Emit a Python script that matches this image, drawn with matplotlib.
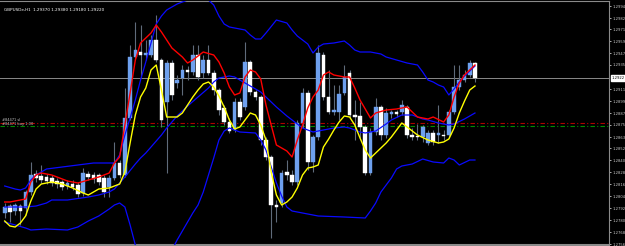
import numpy as np
import matplotlib
matplotlib.use("Agg")
import matplotlib.pyplot as plt

# --- candle data (H1 bars, oldest first) ---
opens = [1.2787, 1.2794, 1.2789, 1.2794, 1.2792, 1.2808, 1.2826, 1.2824, 1.2823, 1.2822,
         1.2819, 1.2818, 1.2814, 1.2816, 1.2815, 1.2807, 1.2826, 1.2825, 1.2825, 1.2822,
         1.2813, 1.2822, 1.2837, 1.2825, 1.2882, 1.2943, 1.2948, 1.2945, 1.2945, 1.2960,
         1.2940, 1.2898, 1.2937, 1.2917, 1.2922, 1.2930, 1.2928, 1.2945, 1.2927, 1.2940,
         1.2927, 1.2910, 1.2892, 1.2878, 1.2870, 1.2898, 1.2893, 1.2938, 1.2908, 1.2903,
         1.2860, 1.2843, 1.2795, 1.2797, 1.2828, 1.2825, 1.2818, 1.2877, 1.2907, 1.2838,
         1.2863, 1.2945, 1.2903, 1.2888, 1.2888, 1.2907, 1.2927, 1.2885, 1.2884, 1.2873,
         1.2827, 1.2868, 1.2893, 1.2865, 1.2886, 1.2888, 1.2888, 1.2893, 1.2865, 1.2864,
         1.2863, 1.2857, 1.2867, 1.2865, 1.2865, 1.2865, 1.2888, 1.2913, 1.2920, 1.2925,
         1.2937]
highs = [1.2797, 1.2796, 1.2797, 1.2796, 1.2810, 1.2838, 1.2830, 1.2835, 1.2826, 1.2825,
         1.2822, 1.2820, 1.2820, 1.2820, 1.2818, 1.2832, 1.2829, 1.2828, 1.2827, 1.2825,
         1.2825, 1.2858, 1.2840, 1.2912, 1.2955, 1.2978, 1.2975, 1.2960, 1.2965, 1.2985,
         1.2942, 1.2940, 1.2940, 1.2925, 1.2935, 1.2934, 1.2955, 1.2955, 1.2945, 1.2955,
         1.2930, 1.2912, 1.2895, 1.2882, 1.2902, 1.2902, 1.2958, 1.2940, 1.2910, 1.2905,
         1.2863, 1.2845, 1.2800, 1.2830, 1.2840, 1.2830, 1.2880, 1.2912, 1.2910, 1.2865,
         1.2955, 1.2948, 1.2930, 1.2915, 1.2915, 1.2935, 1.2930, 1.2900, 1.2898, 1.2875,
         1.2872, 1.2902, 1.2895, 1.2892, 1.2890, 1.2890, 1.2900, 1.2895, 1.2872, 1.2876,
         1.2875, 1.2870, 1.2870, 1.2895, 1.2870, 1.2890, 1.2935, 1.2935, 1.2930, 1.2940,
         1.2938]
lows = [1.2782, 1.2778, 1.2785, 1.2775, 1.2785, 1.2805, 1.2818, 1.2817, 1.2816, 1.2814,
        1.2812, 1.2810, 1.2811, 1.2810, 1.2803, 1.2804, 1.2820, 1.2817, 1.2815, 1.2803,
        1.2803, 1.2820, 1.2822, 1.2823, 1.2880, 1.2940, 1.2922, 1.2940, 1.2943, 1.2938,
        1.2873, 1.2827, 1.2900, 1.2912, 1.2905, 1.2920, 1.2925, 1.2920, 1.2922, 1.2925,
        1.2905, 1.2885, 1.2875, 1.2867, 1.2868, 1.2880, 1.2890, 1.2905, 1.2900, 1.2855,
        1.2840, 1.2762, 1.2778, 1.2793, 1.2820, 1.2815, 1.2815, 1.2872, 1.2830, 1.2828,
        1.2860, 1.2900, 1.2886, 1.2885, 1.2880, 1.2905, 1.2882, 1.2860, 1.2862, 1.2825,
        1.2825, 1.2865, 1.2860, 1.2862, 1.2882, 1.2883, 1.2885, 1.2862, 1.2860, 1.2860,
        1.2858, 1.2855, 1.2855, 1.2857, 1.2860, 1.2862, 1.2886, 1.2910, 1.2918, 1.2923,
        1.2918]
closes = [1.2793, 1.2788, 1.2795, 1.2789, 1.2808, 1.2825, 1.2822, 1.2820, 1.2819, 1.2817,
          1.2816, 1.2813, 1.2817, 1.2813, 1.2806, 1.2827, 1.2823, 1.2821, 1.2818, 1.2808,
          1.2822, 1.2837, 1.2825, 1.2882, 1.2943, 1.2950, 1.2945, 1.2947, 1.2960, 1.2940,
          1.2880, 1.2937, 1.2905, 1.2920, 1.2930, 1.2928, 1.2945, 1.2923, 1.2940, 1.2927,
          1.2910, 1.2890, 1.2878, 1.2869, 1.2898, 1.2883, 1.2938, 1.2908, 1.2903, 1.2860,
          1.2843, 1.2795, 1.2793, 1.2827, 1.2825, 1.2818, 1.2877, 1.2907, 1.2838, 1.2863,
          1.2947, 1.2903, 1.2888, 1.2890, 1.2906, 1.2923, 1.2885, 1.2883, 1.2873, 1.2827,
          1.2868, 1.2893, 1.2865, 1.2887, 1.2888, 1.2886, 1.2895, 1.2865, 1.2863, 1.2863,
          1.2873, 1.2867, 1.2858, 1.2867, 1.2864, 1.2888, 1.2913, 1.2920, 1.2925, 1.2937,
          1.2922]

# --- indicator readings (bar index, value) ---
red_idx = [0, 1, 2, 4, 5, 6, 7, 9, 10, 12, 14, 16, 18, 20, 21, 22, 23, 24, 25, 26, 28, 29, 30,
           32, 34, 35, 36, 38, 40, 41, 42, 43, 44, 45, 46, 47, 48, 49, 50, 52, 54, 55, 56, 57,
           58, 59, 60, 61, 62, 63, 65, 66, 67, 68, 70, 71, 73, 75, 77, 79, 81, 82, 84, 85, 86,
           87, 88, 90]
red_val = [1.2798, 1.2798, 1.2799, 1.2801, 1.2818, 1.2825, 1.2827, 1.2825, 1.2823, 1.2819,
           1.2817, 1.2820, 1.2823, 1.2827, 1.2837, 1.2843, 1.2875, 1.2907, 1.2940, 1.2957,
           1.2967, 1.2975, 1.2968, 1.2952, 1.2943, 1.2937, 1.2940, 1.2948, 1.2945, 1.2938,
           1.2927, 1.2913, 1.2905, 1.2907, 1.2923, 1.2930, 1.2928, 1.2921, 1.2895, 1.2855,
           1.2849, 1.2843, 1.2860, 1.2875, 1.2892, 1.2903, 1.2910, 1.2925, 1.2928, 1.2925,
           1.2923, 1.2923, 1.2912, 1.2900, 1.2882, 1.2887, 1.2890, 1.2891, 1.2893, 1.2883,
           1.2881, 1.2883, 1.2878, 1.2885, 1.2903, 1.2917, 1.2925, 1.2935]

yel_idx = [0, 1, 2, 3, 4, 5, 6, 7, 9, 11, 13, 15, 16, 17, 18, 20, 22, 23, 24, 25, 26, 27, 28,
           29, 30, 31, 33, 34, 35, 36, 37, 38, 39, 40, 41, 42, 43, 44, 45, 46, 47, 48, 49, 50,
           51, 52, 53, 54, 55, 56, 57, 58, 59, 60, 61, 62, 63, 64, 65, 66, 67, 68, 69, 70, 71,
           72, 73, 74, 75, 76, 77, 78, 79, 81, 83, 84, 85, 86, 87, 88, 89, 90]
yel_val = [1.2779, 1.2774, 1.2773, 1.2777, 1.2784, 1.2799, 1.2811, 1.2816, 1.2818, 1.2816,
           1.2812, 1.2807, 1.2805, 1.2808, 1.2811, 1.2812, 1.2816, 1.2828, 1.2857, 1.2885,
           1.2903, 1.2912, 1.2930, 1.2935, 1.2910, 1.2883, 1.2883, 1.2887, 1.2895, 1.2903,
           1.2910, 1.2916, 1.2918, 1.2913, 1.2904, 1.2893, 1.2880, 1.2871, 1.2873, 1.2880,
           1.2887, 1.2885, 1.2875, 1.2860, 1.2828, 1.2805, 1.2795, 1.2798, 1.2803, 1.2812,
           1.2825, 1.2832, 1.2833, 1.2835, 1.2853, 1.2861, 1.2870, 1.2878, 1.2884, 1.2883,
           1.2875, 1.2862, 1.2850, 1.2842, 1.2847, 1.2852, 1.2857, 1.2863, 1.2870, 1.2877,
           1.2873, 1.2869, 1.2865, 1.2860, 1.2857, 1.2858, 1.2861, 1.2872, 1.2887, 1.2899,
           1.2910, 1.2914]

bb_up_idx = [0, 2, 3, 4, 5, 6, 8, 11, 14, 17, 21, 22, 23, 24, 25, 26, 27, 28, 29, 30, 31, 33,
             35, 37, 39, 40, 41, 42, 43, 45, 46, 47, 48, 49, 50, 52, 54, 55, 56, 57, 58, 59,
             60, 61, 63, 65, 66, 67, 68, 70, 72, 73, 75, 77, 79, 80, 81, 82, 83, 84, 85, 86,
             87, 88, 89, 90]
bb_up_val = [1.2814, 1.2811, 1.2810, 1.2812, 1.2820, 1.2825, 1.2831, 1.2833, 1.2835, 1.2837,
             1.2837, 1.2845, 1.2865, 1.2882, 1.2900, 1.2920, 1.2938, 1.2957, 1.2976, 1.2984,
             1.2990, 1.2996, 1.3000, 1.3003, 1.3000, 1.2995, 1.2984, 1.2976, 1.2973, 1.2971,
             1.2970, 1.2965, 1.2961, 1.2961, 1.2967, 1.2980, 1.2977, 1.2970, 1.2964, 1.2960,
             1.2956, 1.2947, 1.2953, 1.2956, 1.2957, 1.2959, 1.2955, 1.2950, 1.2948, 1.2948,
             1.2946, 1.2943, 1.2940, 1.2937, 1.2935, 1.2928, 1.2920, 1.2918, 1.2915, 1.2913,
             1.2905, 1.2911, 1.2918, 1.2924, 1.2929, 1.2934]

bb_mid_idx = [0, 4, 6, 8, 9, 12, 16, 18, 20, 21, 22, 23, 25, 26, 27, 28, 30, 31, 33, 35, 37,
              39, 40, 41, 43, 44, 45, 47, 48, 49, 50, 52, 54, 55, 57, 59, 61, 63, 65, 66, 68,
              69, 71, 73, 74, 76, 78, 80, 81, 83, 85, 86, 88, 90]
bb_mid_val = [1.2793, 1.2793, 1.2794, 1.2797, 1.2800, 1.2800, 1.2803, 1.2805, 1.2808, 1.2811,
              1.2817, 1.2823, 1.2836, 1.2842, 1.2847, 1.2853, 1.2865, 1.2872, 1.2884, 1.2894,
              1.2903, 1.2912, 1.2918, 1.2922, 1.2924, 1.2923, 1.2920, 1.2914, 1.2911, 1.2908,
              1.2903, 1.2893, 1.2884, 1.2880, 1.2872, 1.2868, 1.2870, 1.2872, 1.2873, 1.2872,
              1.2868, 1.2867, 1.2869, 1.2876, 1.2880, 1.2885, 1.2885, 1.2881, 1.2880, 1.2877,
              1.2875, 1.2876, 1.2881, 1.2887]

bb_lo_idx = [0, 2, 4, 5, 8, 12, 14, 16, 18, 20, 21, 22, 23, 24, 25, 26, 27, 28, 29, 30, 31,
             32, 33, 34, 35, 36, 37, 38, 39, 40, 41, 42, 43, 45, 48, 49, 50, 51, 52, 53, 54,
             55, 57, 60, 65, 69, 70, 71, 72, 73, 74, 75, 76, 78, 80, 82, 84, 85, 86, 87, 89, 90]
bb_lo_val = [1.2778, 1.2775, 1.2772, 1.2770, 1.2771, 1.2770, 1.2773, 1.2779, 1.2784, 1.2791,
             1.2795, 1.2797, 1.2793, 1.2775, 1.2755, 1.2738, 1.2725, 1.2718, 1.2715, 1.2717,
             1.2725, 1.2750, 1.2760, 1.2769, 1.2778, 1.2787, 1.2795, 1.2808, 1.2825, 1.2842,
             1.2860, 1.2869, 1.2872, 1.2868, 1.2867, 1.2860, 1.2850, 1.2833, 1.2817, 1.2804,
             1.2793, 1.2789, 1.2787, 1.2784, 1.2783, 1.2782, 1.2789, 1.2797, 1.2808, 1.2815,
             1.2822, 1.2831, 1.2834, 1.2836, 1.2841, 1.2838, 1.2837, 1.2842, 1.2840, 1.2835,
             1.2840, 1.2840]

# order levels and right-axis labels
sl_level = 1.28775
buy_level = 1.28740
ytick_vals = [1.2994, 1.2982, 1.2971, 1.2959, 1.2947, 1.2935, 1.2911, 1.2899,
              1.2887, 1.2875, 1.2863, 1.2852, 1.2840, 1.2828, 1.2816, 1.2804,
              1.2792, 1.2780, 1.2768, 1.2756]
symbol_label = "GBPUSDe,H1"

W, H = 625, 246
fig = plt.figure(figsize=(W / 100, H / 100), dpi=100, facecolor="black")
ax = fig.add_axes([0, 1 / H, 609 / W, 244 / H], facecolor="black")

o = np.array(opens); c = np.array(closes)
hi = np.array(highs); lo = np.array(lows)
x = np.arange(len(o))
bull = c > o

# wicks then bodies
ax.vlines(x, lo, hi, color="#5f6b7a", lw=0.8, zorder=2)
body_h = np.maximum(np.abs(c - o), 0.00008)
body_b = np.minimum(o, c)
ax.bar(x[bull], body_h[bull], bottom=body_b[bull], width=0.7,
       color="#6ea0ee", edgecolor="#6ea0ee", lw=0.3, zorder=3)
ax.bar(x[~bull], body_h[~bull], bottom=body_b[~bull], width=0.7,
       color="white", edgecolor="white", lw=0.3, zorder=3)

# indicators
ax.plot(bb_up_idx, bb_up_val, color="#0a0aff", lw=0.9, zorder=4)
ax.plot(bb_mid_idx, bb_mid_val, color="#0a0aff", lw=0.9, zorder=4)
ax.plot(bb_lo_idx, bb_lo_val, color="#0a0aff", lw=0.9, zorder=4)
ax.plot(yel_idx, yel_val, color="#ffff00", lw=1.0, zorder=5)
ax.plot(red_idx, red_val, color="#ff0000", lw=1.0, zorder=5)

# order lines and bid line
ax.axhline(sl_level, color="#b00000", lw=0.8, ls=(0, (4, 2, 1, 2)), zorder=1)
ax.axhline(buy_level, color="#008c00", lw=0.8, ls=(0, (4, 2, 1, 2)), zorder=1)
bid = closes[-1]
ax.axhline(bid, color="#8a8a8a", lw=0.7, zorder=1)

ax.text(0.004, sl_level + 0.00005, "#84471 sl", color="#c0c0c0", fontsize=2.6,
        transform=ax.get_yaxis_transform(), va="bottom")
ax.text(0.004, buy_level + 0.00002, "#84471 buy 1.00", color="#c0c0c0", fontsize=2.6,
        transform=ax.get_yaxis_transform(), va="bottom")
ax.text(0.006, 0.965, f"{symbol_label}  {opens[-1]:.5f} {highs[-1]:.5f} {lows[-1]:.5f} {closes[-1]:.5f}",
        color="white", fontsize=3.0, transform=ax.transAxes, va="center")

ax.set_xlim(-0.9, 115.65)
ax.set_ylim(1.3 - 245 / 10000, 1.3 - 1 / 10000)

ax.yaxis.tick_right()
ax.set_yticks(ytick_vals)
ax.set_yticklabels([f"{v:.4f}" for v in ytick_vals])
ax.tick_params(axis="y", colors="#c8c8c8", labelsize=2.7, length=1.5, width=0.6, pad=0.8)
ax.set_xticks([])
ax.spines["left"].set_visible(False)
for s in ["top", "right", "bottom"]:
    ax.spines[s].set_color("#8a8a8a")
ax.spines["bottom"].set_linewidth(1.5)
ax.spines["right"].set_linewidth(0.8)
ax.spines["top"].set_linewidth(0.8)

# bid price box on the scale
ax.text(1.004, bid, f"{bid:.4f}", transform=ax.get_yaxis_transform(), color="black",
        fontsize=2.7, va="center", ha="left",
        bbox=dict(boxstyle="square,pad=0.15", fc="white", ec="white"), clip_on=False)

fig.savefig("out.png", dpi=100, facecolor="black")
